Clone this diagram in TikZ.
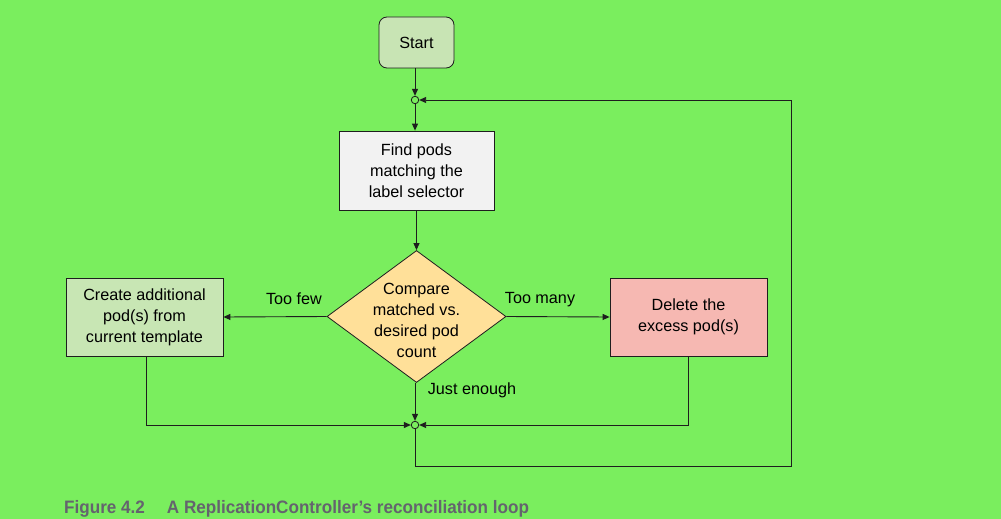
\documentclass[tikz,border=0pt]{standalone}
\usepackage{fontspec}
\setmainfont{Liberation Sans}
\usetikzlibrary{arrows.meta,shapes.geometric}
\definecolor{bg}{RGB}{122,238,94}
\definecolor{startfill}{RGB}{200,228,180}
\definecolor{greenfill}{RGB}{200,230,180}
\definecolor{greyfill}{RGB}{242,242,242}
\definecolor{orangefill}{RGB}{255,224,153}
\definecolor{pinkfill}{RGB}{246,184,178}
\definecolor{capgray}{RGB}{100,100,110}
\definecolor{linec}{RGB}{30,30,30}
\tikzset{
  txt/.style={font=\fontsize{16.2}{21}\selectfont, align=center, text=black},
  box/.style={draw=linec, line width=0.8pt, txt, inner sep=0pt},
  junc/.style={circle, draw=linec, fill=bg, line width=0.8pt, minimum size=7.5pt, inner sep=0pt},
  conn/.style={draw=linec, line width=0.9pt},
  arr/.style={conn, -{Triangle[length=7pt,width=6pt]}},
  lbl/.style={font=\fontsize{16.2}{18}\selectfont, text=black}
}
\begin{document}
\begin{tikzpicture}[x=1pt,y=-1pt]
\useasboundingbox[fill=bg] (0,0) rectangle (1001,519);
\node[box, rounded corners=8pt, fill=startfill, minimum width=75pt, minimum height=51pt] (start) at (416.5,42.5) {Start};
\node[junc] (j1) at (415,100) {};
\node[box, fill=greyfill, minimum width=155pt, minimum height=79pt] (find) at (416.5,170.5) {Find pods\\matching the\\label selector};
\node[diamond, box, fill=orangefill, minimum width=179pt, minimum height=132pt, aspect=1.36] (cmp) at (416.5,316.5) {};
\node[txt] at (416.5,320) {Compare\\matched vs.\\desired pod\\count};
\node[box, fill=greenfill, minimum width=157pt, minimum height=78pt] (create) at (144.5,317) {Create additional\\pod(s) from\\current template};
\node[box, fill=pinkfill, minimum width=157pt, minimum height=78pt] (del) at (688.5,317) {Delete the\\excess pod(s)};
\node[junc] (j2) at (415,425) {};
\coordinate (bl) at (146,425);
\coordinate (br) at (688,425);
\coordinate (lb) at (415,466);
\coordinate (rb) at (791,466);
\coordinate (rt) at (791,100);
\draw[arr] (start.south -| j1) -- (j1);
\draw[arr] (j1) -- (find.north -| j1);
\draw[arr] (find.south -| cmp) -- (cmp.north);
\draw[arr] (cmp.west) -- (create.east);
\draw[arr] (cmp.east) -- (del.west);
\draw[arr] (cmp.south -| j2) -- (j2);
\draw[arr] (create.south -| bl) -- (bl) -- (j2);
\draw[arr] (del.south -| br) -- (br) -- (j2);
\draw[arr] (j2) -- (lb) -- (rb) -- (rt) -- (j1);
\node[lbl] (tf) at (294,299) {Too few};
\node[lbl] (tm) at (540,299.5) {Too many};
\node[lbl] (je) at (472,390.5) {Just enough};
\node[anchor=base west, inner sep=0pt, text=capgray, font=\fontsize{18}{20}\bfseries\selectfont] (cap) at (64,513) {\addfontfeature{FakeStretch=0.95}Figure 4.2\hspace{22pt}A ReplicationController’s reconciliation loop};
\end{tikzpicture}
\end{document}
